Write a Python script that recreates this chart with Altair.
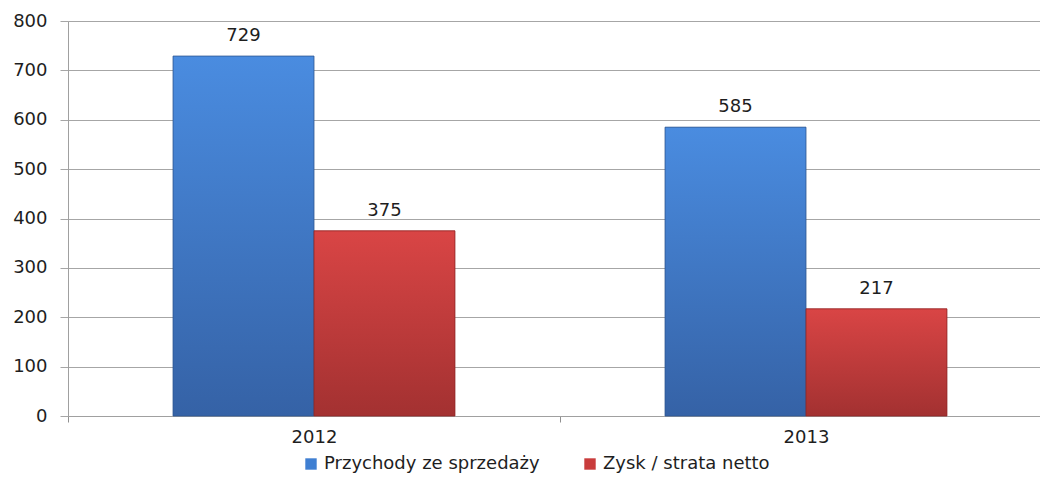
import altair as alt
import pandas as pd

years = ["2012", "2013"]
series = ["Przychody ze sprzedaży", "Zysk / strata netto"]
przychody = [729, 585]
zysk = [375, 217]

rows = []
for i, y in enumerate(years):
    rows.append({"rok": y, "seria": series[0], "wartosc": przychody[i]})
    rows.append({"rok": y, "seria": series[1], "wartosc": zysk[i]})
df = pd.DataFrame(rows)

FONT = "DejaVu Sans"
FS = 18
blue_grad = {
    "gradient": "linear", "x1": 0, "y1": 0, "x2": 0, "y2": 1,
    "stops": [{"offset": 0, "color": "#4a8ce0"}, {"offset": 1, "color": "#3562a6"}],
}
red_grad = {
    "gradient": "linear", "x1": 0, "y1": 0, "x2": 0, "y2": 1,
    "stops": [{"offset": 0, "color": "#d94545"}, {"offset": 1, "color": "#a33131"}],
}

x_enc = alt.X(
    "rok:N",
    title=None,
    scale=alt.Scale(range=[0, 984], paddingInner=0.427, paddingOuter=0.2135),
    axis=alt.Axis(
        labelAngle=0, tickOffset=-246, labelOffset=246, tickSize=6, tickWidth=1,
        labelPadding=6, domainColor="#a0a0a0", tickColor="#909090", grid=False,
        labelFont=FONT, labelFontSize=FS, labelColor="#1e1e1e",
    ),
)
xo_enc = alt.XOffset("seria:N", sort=series, scale=alt.Scale(paddingInner=0, paddingOuter=0))
y_enc = alt.Y(
    "wartosc:Q",
    title=None,
    scale=alt.Scale(domain=[0, 800], nice=False),
    axis=alt.Axis(
        values=[0, 100, 200, 300, 400, 500, 600, 700, 800],
        tickSize=8, labelPadding=13, grid=True, gridColor="#a6a6a6",
        domainColor="#a0a0a0", tickColor="#a6a6a6",
        labelFont=FONT, labelFontSize=FS, labelColor="#1e1e1e",
    ),
)

base = alt.Chart(df)

legend_bars = base.mark_bar().encode(
    x=x_enc, xOffset=xo_enc, y=y_enc,
    color=alt.Color(
        "seria:N", sort=series,
        scale=alt.Scale(domain=series, range=["#3f7fd2", "#c93c3c"]),
        legend=alt.Legend(
            title=None, orient="none", direction="horizontal",
            legendX=234, legendY=434, symbolType="square", symbolSize=130,
            symbolStrokeWidth=0, labelFont=FONT, labelFontSize=FS,
            labelColor="#1e1e1e", columnPadding=41, labelOffset=4,
            labelLimit=0,
        ),
    ),
)

blue_bars = base.transform_filter(alt.datum.seria == series[0]).mark_bar(
    fill=blue_grad, stroke="#2d5590", strokeWidth=0.8
).encode(x=x_enc, xOffset=xo_enc, y=y_enc)

red_bars = base.transform_filter(alt.datum.seria == series[1]).mark_bar(
    fill=red_grad, stroke="#8f2626", strokeWidth=0.8
).encode(x=x_enc, xOffset=xo_enc, y=y_enc)

labels = base.mark_text(
    dy=-11, font=FONT, fontSize=FS, color="#1e1e1e", baseline="bottom"
).encode(x=x_enc, xOffset=xo_enc, y=y_enc, text=alt.Text("wartosc:Q"))

chart = alt.layer(legend_bars, blue_bars, red_bars, labels).properties(
    width=972, height=395,
    autosize=alt.AutoSizeParams(type="none"),
    padding={"left": 68, "top": 21, "right": 0, "bottom": 70},
).configure_view(stroke=None).configure(background="white")

chart.save("out.html", embed_options={"renderer": "svg", "actions": False})
